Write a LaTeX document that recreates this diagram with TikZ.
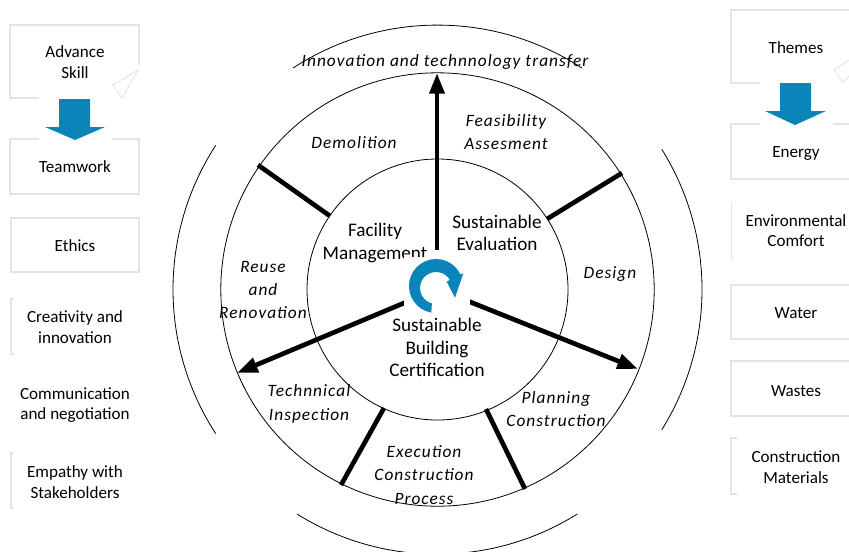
\documentclass[tikz,border=0pt]{standalone}
\usepackage{fontspec}
\setmainfont{Carlito}
\usetikzlibrary{arrows.meta,calc}
\definecolor{boxline}{RGB}{228,228,228}
\definecolor{flowblue}{RGB}{11,132,186}
\tikzset{
  ring/.style={draw=black,line width=0.6pt},
  spoke/.style={draw=black,line width=3.5pt},
  spokearrow/.style={spoke,-{Triangle[length=15.5pt,width=11pt]}},
  boxedge/.style={draw=boxline,line width=1.2pt},
  flowdown/.style={fill=flowblue,draw=none},
  plainlabel/.style={align=center,font=\fontsize{12.8}{15.5}\selectfont,inner sep=0pt},
  centerlabel/.style={align=center,font=\fontsize{14.4}{17}\selectfont,inner sep=0pt},
  stagelabel/.style={align=center,font=\fontsize{13}{17.5}\selectfont\itshape\addfontfeature{LetterSpace=6},inner sep=0pt},
}
\begin{document}
\begin{tikzpicture}[x=0.75pt,y=0.75pt,yscale=-1,xscale=1]
\useasboundingbox (0,0) rectangle (849,551);
\path[clip] (0,0) rectangle (849,551);

% rings
\coordinate (hub) at (437.5,289.5);
\draw [ring] (hub) circle [radius=130.5];
\draw [ring] (hub) circle [radius=216.7];

% outer arcs
\draw [ring] (173,289.5) arc [start angle=180,delta angle=-33,radius=264.5];
\draw [ring] (173,289.5) arc [start angle=180,delta angle=33,radius=264.5];
\draw [ring] (702,289.5) arc [start angle=0,delta angle=32,radius=264.5];
\draw [ring] (702,289.5) arc [start angle=0,delta angle=-32,radius=264.5];
\draw [ring] (293,68) arc [start angle=-123.1,end angle=-56.9,radius=264.5];
\draw [ring] (297,514) arc [start angle=122,end angle=58,radius=264.5];

% spokes
\coordinate (tA) at (330,216);
\coordinate (oA) at (258,165);
\coordinate (tB) at (547,219);
\coordinate (oB) at (622,173);
\coordinate (tC) at (384,408);
\coordinate (oC) at (341,485);
\coordinate (tD) at (486,409);
\coordinate (oD) at (525,489);
\coordinate (cN) at (437,250);
\coordinate (oN) at (437,73);
\coordinate (cW) at (410,300.5);
\coordinate (oW) at (237,373);
\coordinate (cE) at (464,299.5);
\coordinate (oE) at (638,369);
\draw [spoke] (tA) -- (oA);
\draw [spoke] (tB) -- (oB);
\draw [spoke] (tC) -- (oC);
\draw [spoke] (tD) -- (oD);
\draw [spokearrow] (cN) -- (oN);
\draw [spokearrow] (cW) -- (oW);
\draw [spokearrow] (cE) -- (oE);

% ring labels
\node [stagelabel] (transfer) at (445,61.5) {Innovation and technnology transfer};
\node [stagelabel] (demolition) at (354,143) {Demolition};
\node [stagelabel] (feasibility) at (506,132) {Feasibility\\Assesment};
\node [stagelabel] (design) at (610,274) {Design};
\node [stagelabel] (reuse) at (263,290) {Reuse\\and\\Renovation};
\node [stagelabel] (inspection) at (309,404) {Technnical\\Inspection};
\node [stagelabel] (execution) at (424,475) {Execution\\Construction\\Process};
\node [stagelabel] (planning) at (556,409) {Planning\\Construction};

% centre labels
\node [centerlabel] (facility) at (375,243) {Facility\\Management};
\node [centerlabel] (evaluation) at (497,233) {Sustainable\\Evaluation};
\node [centerlabel] (certification) at (437,347.5) {Sustainable\\Building\\Certification};

% centre cycle arrow
\fill [white] (404,257) rectangle (470,317);
\fill [flowblue] (431.3,312.6) arc [start angle=100,end angle=335,radius=27]
  -- (463.3,273.3) -- (455,297.7) -- (446.7,281.7) -- (449.9,280)
  arc [start angle=-30,end angle=-255,radius=16] -- cycle;

% left column
\draw [boxedge] (39,98) -- (10,98) -- (10,25) -- (139,25) -- (139,65);
\draw [boxedge,line width=0.7pt] (138,70) -- (113,85) -- (122,98) -- cycle;
\draw [boxedge] (39,139) -- (10,139) -- (10,194) -- (139,194) -- (139,139) -- (112,139);
\draw [boxedge] (11,218) rectangle (139,272);
\draw [boxedge] (14,299) -- (11,299) -- (11,354) -- (14,354);
\draw [boxedge] (14,453) -- (11,453) -- (11,508) -- (14,508);
\node [plainlabel] (advance) at (75,62) {Advance\\Skill};
\node [plainlabel] (teamwork) at (75,167) {Teamwork};
\node [plainlabel] (ethics) at (75,246) {Ethics};
\node [plainlabel] (creativity) at (75,327) {Creativity and\\innovation};
\node [plainlabel] (communication) at (75,405) {Communication\\and negotiation};
\node [plainlabel] (empathy) at (75,482) {Empathy with\\Stakeholders};
\fill [flowdown] (59,99) -- (90,99) -- (90,127) -- (105,127) -- (75,140) -- (45,127) -- (59,127) -- cycle;

% right column
\draw [boxedge] (760,83) -- (731,83) -- (731,10) -- (849,10);
\draw [boxedge,line width=0.7pt] (849,60) -- (834,70) -- (843,83) -- (849,76);
\draw [boxedge] (760,124) -- (731,124) -- (731,179) -- (849,179);
\draw [boxedge] (833,124) -- (849,124);
\draw [boxedge,line width=0.7pt] (731,202) -- (731,260);
\draw [boxedge] (849,285) -- (731,285) -- (731,339) -- (849,339);
\draw [boxedge] (849,361) -- (731,361) -- (731,416) -- (849,416);
\draw [boxedge] (737,438) -- (731,438) -- (731,494) -- (737,494);
\node [plainlabel] (themes) at (796,48) {Themes};
\node [plainlabel] (energy) at (796,153) {Energy};
\node [plainlabel] (comfort) at (796,230.5) {Environmental\\Comfort};
\node [plainlabel] (water) at (796,313) {Water};
\node [plainlabel] (wastes) at (796,391) {Wastes};
\node [plainlabel] (materials) at (796,467) {Construction\\Materials};
\fill [flowdown] (780,83) -- (811,83) -- (811,111) -- (826,111) -- (795,125) -- (765,111) -- (780,111) -- cycle;
\end{tikzpicture}
\end{document}
